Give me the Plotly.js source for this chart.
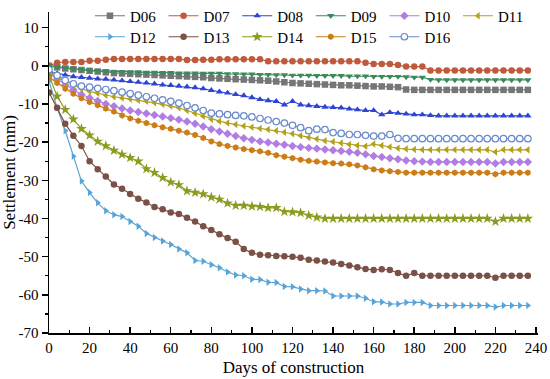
<!DOCTYPE html>
<html>
<head>
<meta charset="utf-8">
<script src="https://cdn.plot.ly/plotly-3.0.1.min.js"></script>
<style>html,body{margin:0;padding:0;background:#fff}#chart{width:550px;height:379px}</style>
</head>
<body>
<div id="chart"></div>
<script>
var days = [0,4,8,12,16,20,24,28,32,36,40,44,48,52,56,60,64,68,72,76,80,84,88,92,96,100,104,108,112,116,120,124,128,132,136,140,144,148,152,156,160,164,168,172,176,180,184,188,192,196,200,204,208,212,216,220,224,228,232,236];

var D06 = [0,-0.4,-0.7,-0.9,-1.1,-1.3,-1.5,-1.7,-1.9,-2.0,-2.1,-2.2,-2.3,-2.4,-2.5,-2.6,-2.7,-2.8,-2.9,-3.0,-3.2,-3.3,-3.4,-3.5,-3.6,-3.7,-3.8,-3.9,-4.1,-4.3,-4.5,-4.6,-4.7,-4.8,-4.9,-5.0,-5.1,-5.1,-5.2,-5.3,-5.4,-5.4,-5.5,-5.6,-6.2,-6.3,-6.3,-6.3,-6.3,-6.3,-6.3,-6.3,-6.3,-6.3,-6.3,-6.3,-6.3,-6.3,-6.3,-6.3];
var D07 = [0,0.8,1.0,1.0,1.0,1.3,1.3,1.6,1.8,1.8,1.8,1.8,1.8,1.8,1.8,1.8,1.8,1.5,1.5,1.6,1.6,1.7,1.7,1.7,1.7,1.7,1.7,1.2,1.2,1.2,1.2,1.2,1.2,1.2,1.2,1.2,1.2,1.2,1.2,0.8,0.5,0.5,0.5,0.2,-0.2,-0.2,-0.2,-1.2,-1.2,-1.2,-1.2,-1.2,-1.2,-1.2,-1.2,-1.2,-1.2,-1.2,-1.2,-1.2];
var D08 = [-1.5,-2.0,-2.4,-2.8,-3.0,-3.2,-3.4,-3.5,-3.7,-3.9,-4.1,-4.3,-4.5,-4.7,-5.0,-5.1,-5.3,-5.5,-5.7,-6.0,-6.4,-6.8,-7.1,-7.5,-7.8,-8.3,-8.8,-9.1,-9.3,-10.2,-9.3,-10.2,-10.4,-10.6,-10.8,-10.9,-11.0,-11.3,-11.5,-11.7,-11.7,-12.8,-12.2,-12.4,-12.6,-12.8,-12.8,-13.0,-13.1,-13.1,-13.1,-13.1,-13.1,-13.1,-13.1,-13.1,-13.1,-13.1,-13.1,-13.1];
var D09 = [0,-0.3,-0.5,-0.8,-1.0,-1.2,-1.3,-1.4,-1.5,-1.5,-1.6,-1.6,-1.7,-1.7,-1.8,-1.8,-1.9,-1.9,-1.9,-2.0,-2.0,-2.0,-2.1,-2.1,-2.2,-2.2,-2.3,-2.3,-2.4,-2.4,-2.5,-2.5,-2.5,-2.6,-2.6,-2.6,-2.6,-2.7,-2.7,-2.7,-2.8,-2.8,-2.8,-2.8,-2.9,-3.0,-3.0,-3.6,-3.7,-3.7,-3.7,-3.7,-3.7,-3.7,-3.7,-3.7,-3.7,-3.7,-3.7,-3.7];
var D10 = [-2.0,-3.5,-5.0,-6.3,-7.5,-8.4,-9.2,-10.0,-10.6,-11.2,-11.7,-12.1,-12.5,-12.9,-13.3,-13.7,-14.1,-14.6,-15.2,-15.9,-16.6,-17.2,-17.8,-18.4,-19.0,-19.4,-19.8,-20.1,-20.4,-20.7,-21.0,-21.3,-21.5,-21.7,-21.9,-22.1,-22.3,-22.5,-22.8,-23.2,-23.6,-23.9,-24.2,-24.5,-24.8,-25.0,-25.1,-25.2,-25.2,-25.2,-25.2,-25.2,-25.2,-25.2,-25.2,-25.6,-25.2,-25.2,-25.2,-25.2];
var D11 = [-2.0,-3.0,-4.2,-5.2,-6.0,-6.7,-7.2,-7.7,-8.1,-8.4,-8.7,-9.0,-9.3,-9.7,-10.1,-10.5,-11.0,-11.7,-12.4,-13.2,-14.0,-14.5,-15.0,-15.4,-15.8,-16.1,-16.4,-16.7,-17.0,-17.4,-17.8,-18.3,-18.8,-19.2,-19.6,-19.9,-20.2,-20.6,-20.9,-21.1,-20.5,-20.9,-21.3,-21.6,-21.8,-21.9,-22.0,-22.0,-22.0,-22.0,-22.0,-22.0,-22.0,-22.0,-22.0,-22.6,-22.0,-22.0,-22.0,-22.0];
var D12 = [-4.0,-11.0,-17.0,-23.7,-30.2,-33.2,-35.9,-38.0,-39.0,-39.5,-40.8,-42.0,-43.9,-45.0,-45.9,-46.8,-48.0,-49.0,-51.0,-51.2,-52.1,-52.9,-54.0,-54.8,-55.0,-55.9,-56.0,-56.7,-56.8,-57.8,-57.9,-58.5,-58.9,-58.9,-59.0,-60.3,-60.3,-60.3,-60.3,-60.9,-61.8,-61.9,-62.4,-62.4,-62.0,-62.0,-62.0,-62.8,-62.8,-62.8,-62.8,-62.8,-62.8,-62.8,-62.8,-63.2,-62.8,-62.8,-62.8,-62.8];
var D13 = [-7.0,-11.0,-15.2,-18.3,-21.0,-25.0,-27.1,-29.0,-31.1,-32.2,-33.6,-34.8,-35.8,-37.0,-37.6,-38.4,-38.8,-39.8,-40.8,-42.0,-43.0,-44.1,-45.1,-46.1,-48.0,-49.0,-49.5,-49.6,-49.8,-49.9,-50.0,-50.3,-50.8,-51.0,-51.3,-51.5,-51.9,-52.3,-52.8,-53.2,-53.5,-53.3,-53.5,-54.3,-55.0,-54.3,-55.0,-55.0,-55.0,-55.0,-55.0,-55.0,-55.0,-55.0,-55.0,-55.5,-55.0,-55.0,-55.0,-55.0];
var D14 = [-2.5,-8.0,-11.5,-14.0,-16.5,-18.2,-19.8,-21.0,-22.2,-23.2,-24.1,-25.0,-27.0,-28.0,-29.3,-30.5,-31.2,-32.8,-33.2,-33.6,-34.4,-35.0,-36.0,-36.6,-36.6,-36.8,-36.9,-37.2,-37.2,-38.2,-38.3,-38.5,-39.2,-39.7,-40.0,-40.0,-40.0,-40.0,-40.0,-40.0,-40.0,-40.0,-40.0,-40.0,-40.0,-40.0,-40.0,-40.0,-40.0,-40.0,-40.0,-40.0,-40.0,-40.0,-40.0,-40.8,-40.0,-40.0,-40.0,-40.0];
var D15 = [-3.0,-4.5,-6.0,-7.3,-8.5,-9.5,-10.3,-11.2,-12.0,-13.0,-13.8,-14.4,-15.0,-15.6,-16.1,-16.5,-17.0,-17.5,-18.1,-18.9,-19.8,-20.5,-21.0,-21.4,-21.8,-22.1,-22.4,-22.8,-23.4,-23.8,-24.2,-24.6,-24.9,-25.1,-25.3,-25.5,-25.6,-25.8,-26.1,-26.6,-27.1,-27.4,-27.6,-27.8,-28.0,-28.0,-28.0,-28.0,-28.0,-28.0,-28.0,-28.0,-28.0,-28.0,-28.0,-28.4,-28.0,-28.0,-28.0,-28.0];
var D16 = [-1.0,-2.5,-3.8,-4.7,-5.3,-5.6,-5.9,-6.2,-6.5,-6.9,-7.3,-7.7,-8.1,-8.5,-8.9,-9.3,-9.8,-10.4,-11.0,-11.7,-12.4,-12.6,-12.8,-13.0,-13.1,-13.4,-13.8,-14.2,-14.6,-15.0,-15.6,-16.2,-17.0,-16.6,-16.7,-17.5,-17.7,-18.0,-18.0,-18.2,-18.4,-18.4,-18.0,-19.0,-19.1,-19.1,-19.1,-19.1,-19.1,-19.1,-19.1,-19.1,-19.1,-19.1,-19.1,-19.1,-19.1,-19.1,-19.1,-19.1];

var seriesNames = ["D06","D07","D08","D09","D10","D11","D12","D13","D14","D15","D16"];
var seriesValues = [D06,D07,D08,D09,D10,D11,D12,D13,D14,D15,D16];
var colors = ["#767676","#c05a3c","#2e44d4","#3b8a5c","#b07ee2","#b3a11c","#58a4d6","#7a5047","#8c9a1e","#cd7d16","#6a8acb"];
var symbols = ["square","circle","triangle-up","triangle-down","diamond","triangle-left","triangle-right","circle","star","hexagon","circle"];

var yTickVals = [-70,-60,-50,-40,-30,-20,-10,0,10];
var yTickText = ["-70","-60","-50","-40","-30","-20","-10","0","10"];
var xTickVals = [0,20,40,60,80,100,120,140,160,180,200,220,240];

var FONT = "'Liberation Serif','Times New Roman',serif";

var traces = seriesNames.map(function(n, i){
  var open = (n === "D16");
  return {
    x: days, y: seriesValues[i], name: n, type: "scatter", mode: "lines+markers",
    legend: i < 6 ? "legend" : "legend2",
    line: {color: colors[i], width: 1.2},
    marker: {
      symbol: symbols[i],
      size: symbols[i] === "star" ? 8 : 6.5,
      color: open ? "#ffffff" : colors[i],
      line: {color: colors[i], width: open ? 1.2 : 0}
    }
  };
});

var legendCommon = {
  orientation: "h", xanchor: "left", yanchor: "middle",
  xref: "container", yref: "container",
  bgcolor: "rgba(0,0,0,0)", borderwidth: 0,
  font: {family: FONT, size: 15, color: "#000"},
  entrywidth: 28.6, entrywidthmode: "pixels", itemwidth: 30
};

var layout = {
  width: 550, height: 379,
  margin: {l: 49, r: 12, t: 12, b: 46, autoexpand: false},
  paper_bgcolor: "#fff", plot_bgcolor: "#fff",
  font: {family: FONT, size: 14, color: "#000"},
  showlegend: true,
  legend: Object.assign({}, legendCommon, {x: 0.1636, y: 0.9578}),
  legend2: Object.assign({}, legendCommon, {x: 0.1636, y: 0.9024}),
  xaxis: {
    range: [0, 241], showgrid: false, zeroline: false,
    showline: true, linecolor: "#000", linewidth: 1.5,
    tickmode: "array", tickvals: xTickVals,
    ticks: "inside", ticklen: 6, tickwidth: 1.5, tickcolor: "#000",
    minor: {dtick: 10, ticks: "inside", ticklen: 3, tickwidth: 1.2, tickcolor: "#000", showgrid: false},
    tickfont: {family: FONT, size: 15},
    title: {text: "Days of construction", font: {family: FONT, size: 17}, standoff: 6}
  },
  yaxis: {
    range: [-70, 14.1], showgrid: false, zeroline: false,
    showline: true, linecolor: "#000", linewidth: 1.5,
    tickmode: "array", tickvals: yTickVals, ticktext: yTickText,
    ticks: "outside", ticklen: 6, tickwidth: 1.5, tickcolor: "#000",
    minor: {dtick: 5, ticks: "outside", ticklen: 3, tickwidth: 1.2, tickcolor: "#000", showgrid: false},
    tickfont: {family: FONT, size: 15},
    title: {text: "Settlement (mm)", font: {family: FONT, size: 17}, standoff: 4}
  }
};

Plotly.newPlot("chart", traces, layout, {displayModeBar: false, staticPlot: true});
</script>
</body>
</html>
